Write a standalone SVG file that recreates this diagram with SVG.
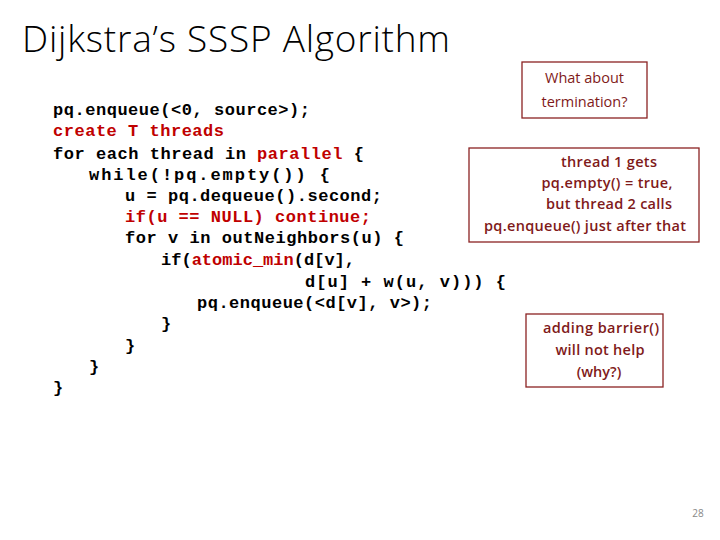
<svg xmlns="http://www.w3.org/2000/svg" width="720" height="540" viewBox="0 0 720 540">
<style>
.c{font-family:"Liberation Mono",monospace;font-weight:bold;font-size:17px;fill:#000}
.r{fill:#C00000}
.b{fill:#fff;stroke:#8B2323;stroke-width:1.3}
.t{font-family:"Open Sans","Liberation Sans",sans-serif;font-size:14.5px;fill:#7F1A1A;text-anchor:middle}
.s{font-weight:600}
</style>
<rect width="720" height="540" fill="#fff"/>
<text x="22" y="52" font-family="'Open Sans','Liberation Sans',sans-serif" font-weight="300" font-size="37" fill="#000" textLength="428">Dijkstra’s SSSP Algorithm</text>
<g id="code">
<text class="c" x="53" y="115" textLength="257">pq.enqueue(&lt;0, source&gt;);</text>
<text class="c r" x="53" y="136" textLength="171">create T threads</text>
<text class="c" x="53" y="159" textLength="311">for each thread in <tspan class="r">parallel</tspan> {</text>
<text class="c" x="89" y="180" textLength="241">while(!pq.empty()) {</text>
<text class="c" x="125" y="201" textLength="257">u = pq.dequeue().second;</text>
<text class="c r" x="125" y="222" textLength="246">if(u == NULL) continue;</text>
<text class="c" x="125" y="243" textLength="279">for v in outNeighbors(u) {</text>
<text class="c" x="161" y="265" textLength="194">if(<tspan class="r">atomic_min</tspan>(d[v],</text>
<text class="c" x="305" y="287" textLength="201">d[u] + w(u, v))) {</text>
<text class="c" x="197" y="308" textLength="235">pq.enqueue(&lt;d[v], v&gt;);</text>
<text class="c" x="161" y="329">}</text>
<text class="c" x="125" y="351">}</text>
<text class="c" x="89" y="372">}</text>
<text class="c" x="53" y="393">}</text>
</g>
<g id="box1">
<rect class="b" x="522" y="62" width="125" height="56"/>
<text class="t" x="584.5" y="83" font-size="15.5">What about</text>
<text class="t" x="584.5" y="107" font-size="15.5">termination?</text>
</g>
<g id="box2" class="s">
<rect class="b" x="469" y="148" width="230" height="94"/>
<text class="t" x="609" y="167" textLength="96">thread 1 gets</text>
<text class="t" x="607" y="188" textLength="131">pq.empty() = true,</text>
<text class="t" x="609" y="209" textLength="126">but thread 2 calls</text>
<text class="t" x="585" y="231" textLength="202">pq.enqueue() just after that</text>
</g>
<g id="box3" class="s">
<rect class="b" x="526" y="314" width="137" height="73"/>
<text class="t" x="601" y="333" textLength="116">adding barrier()</text>
<text class="t" x="600" y="355" textLength="89">will not help</text>
<text class="t" x="599" y="377">(why?)</text>
</g>
<text x="698" y="517" font-family="'Open Sans','Liberation Sans',sans-serif" font-size="10" fill="#888" text-anchor="middle">28</text>
</svg>
